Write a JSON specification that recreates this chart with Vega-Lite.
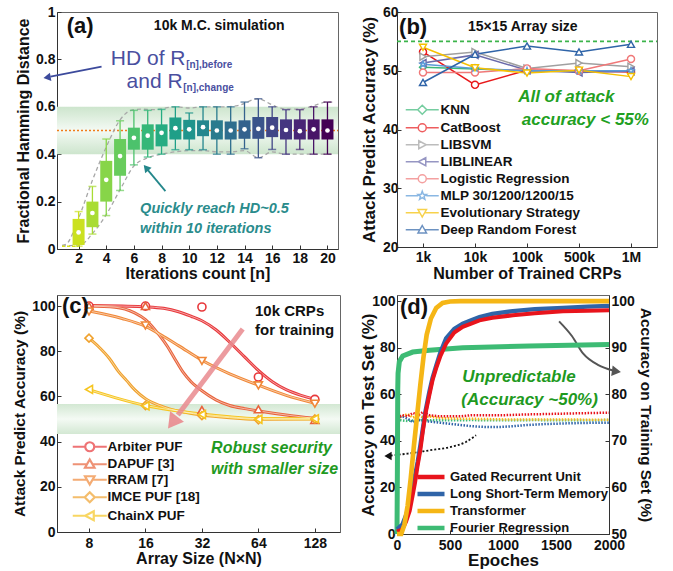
{
"$schema":"https://vega.github.io/schema/vega-lite/v6.json",
"background":"white",
"padding":{"left":12,"top":4,"right":0,"bottom":0},
"config":{
 "font":"Liberation Sans",
 "view":{"stroke":"#666","strokeWidth":1},
 "axis":{"labelFont":"Liberation Sans","titleFont":"Liberation Sans","labelFontSize":14,"labelFontWeight":"bold","titleFontSize":16,"titleFontWeight":"bold","labelColor":"#111","titleColor":"#111","domainColor":"#333","tickColor":"#333","tickSize":-4,"labelPadding":6,"grid":false,"labelFlush":false,"labelOverlap":false,"titlePadding":4},
 "axisX":{"labelPadding":8},
 "legend":{"labelFont":"Liberation Sans","labelFontWeight":"bold","labelColor":"#111","padding":0}
},
"datasets":{
 "hd":[
  {"n":2,"wlo":0.012,"q1":0.017,"med":0.07,"q3":0.127,"whi":0.158},
  {"n":3,"wlo":0.063,"q1":0.092,"med":0.152,"q3":0.2,"whi":0.264},
  {"n":4,"wlo":0.141,"q1":0.2,"med":0.292,"q3":0.372,"whi":0.464},
  {"n":5,"wlo":0.247,"q1":0.309,"med":0.392,"q3":0.464,"whi":0.541},
  {"n":6,"wlo":0.355,"q1":0.419,"med":0.469,"q3":0.512,"whi":0.585},
  {"n":7,"wlo":0.388,"q1":0.419,"med":0.478,"q3":0.526,"whi":0.585},
  {"n":8,"wlo":0.4,"q1":0.433,"med":0.49,"q3":0.526,"whi":0.589},
  {"n":9,"wlo":0.419,"q1":0.462,"med":0.51,"q3":0.555,"whi":0.6},
  {"n":10,"wlo":0.419,"q1":0.462,"med":0.505,"q3":0.545,"whi":0.574},
  {"n":11,"wlo":0.419,"q1":0.476,"med":0.514,"q3":0.543,"whi":0.6},
  {"n":12,"wlo":0.4,"q1":0.462,"med":0.5,"q3":0.543,"whi":0.6},
  {"n":13,"wlo":0.4,"q1":0.462,"med":0.5,"q3":0.538,"whi":0.6},
  {"n":14,"wlo":0.423,"q1":0.465,"med":0.505,"q3":0.543,"whi":0.62},
  {"n":15,"wlo":0.385,"q1":0.465,"med":0.507,"q3":0.557,"whi":0.634},
  {"n":16,"wlo":0.42,"q1":0.472,"med":0.512,"q3":0.557,"whi":0.6},
  {"n":17,"wlo":0.4,"q1":0.462,"med":0.502,"q3":0.547,"whi":0.588},
  {"n":18,"wlo":0.42,"q1":0.462,"med":0.497,"q3":0.547,"whi":0.588},
  {"n":19,"wlo":0.4,"q1":0.462,"med":0.505,"q3":0.547,"whi":0.6},
  {"n":20,"wlo":0.4,"q1":0.462,"med":0.5,"q3":0.547,"whi":0.62}
 ],
 "env":[
  {"side":"u","n":0.8,"v":0.015},{"side":"u","n":1.1,"v":0.02},{"side":"u","n":2,"v":0.13},{"side":"u","n":3,"v":0.29},{"side":"u","n":4,"v":0.43},{"side":"u","n":5,"v":0.545},{"side":"u","n":5.8,"v":0.585},{"side":"u","n":6.5,"v":0.59},{"side":"u","n":7.5,"v":0.588},{"side":"u","n":9,"v":0.6},{"side":"u","n":10,"v":0.595},{"side":"u","n":11,"v":0.6},{"side":"u","n":12.5,"v":0.6},{"side":"u","n":13.5,"v":0.605},{"side":"u","n":15,"v":0.634},{"side":"u","n":16,"v":0.608},{"side":"u","n":17,"v":0.59},{"side":"u","n":18,"v":0.59},{"side":"u","n":19,"v":0.605},{"side":"u","n":20,"v":0.62},{"side":"u","n":20.4,"v":0.62},
  {"side":"l","n":0.8,"v":0.012},{"side":"l","n":2.2,"v":0.02},{"side":"l","n":3,"v":0.065},{"side":"l","n":4,"v":0.145},{"side":"l","n":5,"v":0.25},{"side":"l","n":6,"v":0.35},{"side":"l","n":7,"v":0.385},{"side":"l","n":8,"v":0.4},{"side":"l","n":9,"v":0.41},{"side":"l","n":10,"v":0.415},{"side":"l","n":11,"v":0.415},{"side":"l","n":12,"v":0.41},{"side":"l","n":13,"v":0.41},{"side":"l","n":14,"v":0.415},{"side":"l","n":15,"v":0.385},{"side":"l","n":16,"v":0.41},{"side":"l","n":17,"v":0.4},{"side":"l","n":18,"v":0.4},{"side":"l","n":19,"v":0.4},{"side":"l","n":20,"v":0.4},{"side":"l","n":20.4,"v":0.4}
 ],
 "b":[
  {"m":"KNN","idx":0,"acc":50.6},{"m":"KNN","idx":1,"acc":50.3},{"m":"KNN","idx":2,"acc":50.0},{"m":"KNN","idx":3,"acc":50.0},{"m":"KNN","idx":4,"acc":50.0},
  {"m":"CatBoost","idx":0,"acc":53.2},{"m":"CatBoost","idx":1,"acc":47.6},{"m":"CatBoost","idx":2,"acc":50.1},{"m":"CatBoost","idx":3,"acc":50.0},{"m":"CatBoost","idx":4,"acc":49.8},
  {"m":"LIBSVM","idx":0,"acc":52.4},{"m":"LIBSVM","idx":1,"acc":53.2},{"m":"LIBSVM","idx":2,"acc":50.4},{"m":"LIBSVM","idx":3,"acc":51.3},{"m":"LIBSVM","idx":4,"acc":50.7},
  {"m":"LIBLINEAR","idx":0,"acc":51.3},{"m":"LIBLINEAR","idx":1,"acc":52.7},{"m":"LIBLINEAR","idx":2,"acc":50.1},{"m":"LIBLINEAR","idx":3,"acc":49.7},{"m":"LIBLINEAR","idx":4,"acc":49.9},
  {"m":"Logistic Regression","idx":0,"acc":49.7},{"m":"Logistic Regression","idx":1,"acc":49.7},{"m":"Logistic Regression","idx":2,"acc":50.4},{"m":"Logistic Regression","idx":3,"acc":50.0},{"m":"Logistic Regression","idx":4,"acc":52.0},
  {"m":"MLP 30/1200/1200/15","idx":0,"acc":51.1},{"m":"MLP 30/1200/1200/15","idx":1,"acc":50.4},{"m":"MLP 30/1200/1200/15","idx":2,"acc":50.0},{"m":"MLP 30/1200/1200/15","idx":3,"acc":50.0},{"m":"MLP 30/1200/1200/15","idx":4,"acc":50.0},
  {"m":"Evolutionary Strategy","idx":0,"acc":54.0},{"m":"Evolutionary Strategy","idx":1,"acc":50.5},{"m":"Evolutionary Strategy","idx":2,"acc":49.6},{"m":"Evolutionary Strategy","idx":3,"acc":50.1},{"m":"Evolutionary Strategy","idx":4,"acc":49.0},
  {"m":"Deep Random Forest","idx":0,"acc":48.0},{"m":"Deep Random Forest","idx":1,"acc":52.8},{"m":"Deep Random Forest","idx":2,"acc":54.2},{"m":"Deep Random Forest","idx":3,"acc":53.2},{"m":"Deep Random Forest","idx":4,"acc":54.5}
 ],
 "cpts":[
  {"p":"Arbiter PUF","N":8,"acc":100},{"p":"Arbiter PUF","N":16,"acc":100},{"p":"Arbiter PUF","N":32,"acc":99.6},{"p":"Arbiter PUF","N":64,"acc":68.6},{"p":"Arbiter PUF","N":128,"acc":58.7},
  {"p":"DAPUF [3]","N":8,"acc":100},{"p":"DAPUF [3]","N":16,"acc":100},{"p":"DAPUF [3]","N":32,"acc":54},{"p":"DAPUF [3]","N":64,"acc":54.3},{"p":"DAPUF [3]","N":128,"acc":49.6},
  {"p":"RRAM [7]","N":8,"acc":97.6},{"p":"RRAM [7]","N":16,"acc":91.4},{"p":"RRAM [7]","N":32,"acc":75.7},{"p":"RRAM [7]","N":64,"acc":64.9},{"p":"RRAM [7]","N":128,"acc":56.8},
  {"p":"IMCE PUF [18]","N":8,"acc":85.8},{"p":"IMCE PUF [18]","N":16,"acc":56},{"p":"IMCE PUF [18]","N":32,"acc":51.5},{"p":"IMCE PUF [18]","N":64,"acc":49.7},{"p":"IMCE PUF [18]","N":128,"acc":50},
  {"p":"ChainX PUF","N":8,"acc":63.1},{"p":"ChainX PUF","N":16,"acc":55.8},{"p":"ChainX PUF","N":32,"acc":52},{"p":"ChainX PUF","N":64,"acc":49.9},{"p":"ChainX PUF","N":128,"acc":50.1}
 ],
 "cfit":[
  {"p":"Arbiter PUF","N":8,"acc":100.2},{"p":"Arbiter PUF","N":12,"acc":100},{"p":"Arbiter PUF","N":16,"acc":99.7},{"p":"Arbiter PUF","N":20,"acc":99},{"p":"Arbiter PUF","N":24,"acc":97.5},{"p":"Arbiter PUF","N":28,"acc":95.5},{"p":"Arbiter PUF","N":32,"acc":93.5},{"p":"Arbiter PUF","N":38,"acc":89.5},{"p":"Arbiter PUF","N":45,"acc":84},{"p":"Arbiter PUF","N":54,"acc":77.5},{"p":"Arbiter PUF","N":64,"acc":71.5},{"p":"Arbiter PUF","N":76,"acc":66.5},{"p":"Arbiter PUF","N":90,"acc":63},{"p":"Arbiter PUF","N":108,"acc":60.5},{"p":"Arbiter PUF","N":128,"acc":58.8},
  {"p":"DAPUF [3]","N":8,"acc":100},{"p":"DAPUF [3]","N":11,"acc":99.5},{"p":"DAPUF [3]","N":14,"acc":97},{"p":"DAPUF [3]","N":16,"acc":94},{"p":"DAPUF [3]","N":19,"acc":87},{"p":"DAPUF [3]","N":21,"acc":82},{"p":"DAPUF [3]","N":23,"acc":76.5},{"p":"DAPUF [3]","N":25.5,"acc":70.5},{"p":"DAPUF [3]","N":28,"acc":66.5},{"p":"DAPUF [3]","N":32,"acc":62.5},{"p":"DAPUF [3]","N":38,"acc":58.5},{"p":"DAPUF [3]","N":45,"acc":56},{"p":"DAPUF [3]","N":54,"acc":54.6},{"p":"DAPUF [3]","N":64,"acc":53.6},{"p":"DAPUF [3]","N":90,"acc":51.8},{"p":"DAPUF [3]","N":128,"acc":50.3},
  {"p":"RRAM [7]","N":8,"acc":97.8},{"p":"RRAM [7]","N":12,"acc":94.5},{"p":"RRAM [7]","N":16,"acc":91},{"p":"RRAM [7]","N":20,"acc":86.5},{"p":"RRAM [7]","N":24,"acc":82.5},{"p":"RRAM [7]","N":32,"acc":76},{"p":"RRAM [7]","N":45,"acc":70},{"p":"RRAM [7]","N":64,"acc":65},{"p":"RRAM [7]","N":90,"acc":60.5},{"p":"RRAM [7]","N":128,"acc":57},
  {"p":"IMCE PUF [18]","N":8,"acc":85.8},{"p":"IMCE PUF [18]","N":9,"acc":82},{"p":"IMCE PUF [18]","N":10.3,"acc":76.7},{"p":"IMCE PUF [18]","N":11.5,"acc":71},{"p":"IMCE PUF [18]","N":12.7,"acc":67},{"p":"IMCE PUF [18]","N":14,"acc":63},{"p":"IMCE PUF [18]","N":16,"acc":59},{"p":"IMCE PUF [18]","N":19,"acc":56},{"p":"IMCE PUF [18]","N":21.5,"acc":54.5},{"p":"IMCE PUF [18]","N":26,"acc":53},{"p":"IMCE PUF [18]","N":32,"acc":51.8},{"p":"IMCE PUF [18]","N":45,"acc":50.6},{"p":"IMCE PUF [18]","N":64,"acc":49.9},{"p":"IMCE PUF [18]","N":128,"acc":50},
  {"p":"ChainX PUF","N":8,"acc":63},{"p":"ChainX PUF","N":11,"acc":59.5},{"p":"ChainX PUF","N":16,"acc":56},{"p":"ChainX PUF","N":22,"acc":54},{"p":"ChainX PUF","N":32,"acc":52.2},{"p":"ChainX PUF","N":45,"acc":51},{"p":"ChainX PUF","N":64,"acc":50.2},{"p":"ChainX PUF","N":128,"acc":50.1}
 ],
 "dtr":[
  {"m":"Fourier Regression","ep":0,"T":50},{"m":"Fourier Regression","ep":4,"T":65},{"m":"Fourier Regression","ep":7,"T":81},{"m":"Fourier Regression","ep":10,"T":84.5},{"m":"Fourier Regression","ep":22,"T":87},{"m":"Fourier Regression","ep":54,"T":88.2},{"m":"Fourier Regression","ep":148,"T":89.05},{"m":"Fourier Regression","ep":305,"T":89.45},{"m":"Fourier Regression","ep":620,"T":90},{"m":"Fourier Regression","ep":1250,"T":90.35},{"m":"Fourier Regression","ep":2000,"T":90.7},
  {"m":"Long Short-Term Memory","ep":0,"T":51},{"m":"Long Short-Term Memory","ep":50,"T":52},{"m":"Long Short-Term Memory","ep":85,"T":54},{"m":"Long Short-Term Memory","ep":120,"T":56.5},{"m":"Long Short-Term Memory","ep":148,"T":59.8},{"m":"Long Short-Term Memory","ep":170,"T":62.5},{"m":"Long Short-Term Memory","ep":195,"T":65.5},{"m":"Long Short-Term Memory","ep":220,"T":69},{"m":"Long Short-Term Memory","ep":243,"T":72.5},{"m":"Long Short-Term Memory","ep":270,"T":76.5},{"m":"Long Short-Term Memory","ep":305,"T":80.5},{"m":"Long Short-Term Memory","ep":335,"T":83.5},{"m":"Long Short-Term Memory","ep":368,"T":86},{"m":"Long Short-Term Memory","ep":410,"T":89},{"m":"Long Short-Term Memory","ep":463,"T":92},{"m":"Long Short-Term Memory","ep":540,"T":94},{"m":"Long Short-Term Memory","ep":620,"T":95.15},{"m":"Long Short-Term Memory","ep":700,"T":95.9},{"m":"Long Short-Term Memory","ep":778,"T":96.55},{"m":"Long Short-Term Memory","ep":900,"T":97.25},{"m":"Long Short-Term Memory","ep":1093,"T":97.85},{"m":"Long Short-Term Memory","ep":1300,"T":98.25},{"m":"Long Short-Term Memory","ep":1565,"T":98.55},{"m":"Long Short-Term Memory","ep":1800,"T":98.8},{"m":"Long Short-Term Memory","ep":2000,"T":98.95},
  {"m":"Gated Recurrent Unit","ep":0,"T":50.5},{"m":"Gated Recurrent Unit","ep":50,"T":51},{"m":"Gated Recurrent Unit","ep":85,"T":52.65},{"m":"Gated Recurrent Unit","ep":120,"T":55},{"m":"Gated Recurrent Unit","ep":148,"T":58.35},{"m":"Gated Recurrent Unit","ep":170,"T":61},{"m":"Gated Recurrent Unit","ep":195,"T":64.8},{"m":"Gated Recurrent Unit","ep":220,"T":68},{"m":"Gated Recurrent Unit","ep":243,"T":71.95},{"m":"Gated Recurrent Unit","ep":270,"T":76},{"m":"Gated Recurrent Unit","ep":305,"T":79.8},{"m":"Gated Recurrent Unit","ep":335,"T":83},{"m":"Gated Recurrent Unit","ep":368,"T":85.5},{"m":"Gated Recurrent Unit","ep":410,"T":88.25},{"m":"Gated Recurrent Unit","ep":463,"T":90.85},{"m":"Gated Recurrent Unit","ep":540,"T":93.25},{"m":"Gated Recurrent Unit","ep":620,"T":94.45},{"m":"Gated Recurrent Unit","ep":700,"T":95.15},{"m":"Gated Recurrent Unit","ep":778,"T":95.85},{"m":"Gated Recurrent Unit","ep":900,"T":96.4},{"m":"Gated Recurrent Unit","ep":1093,"T":96.95},{"m":"Gated Recurrent Unit","ep":1300,"T":97.4},{"m":"Gated Recurrent Unit","ep":1565,"T":97.8},{"m":"Gated Recurrent Unit","ep":1800,"T":97.9},{"m":"Gated Recurrent Unit","ep":2000,"T":98},
  {"m":"Transformer","ep":0,"T":50},{"m":"Transformer","ep":40,"T":50},{"m":"Transformer","ep":70,"T":52},{"m":"Transformer","ep":100,"T":56},{"m":"Transformer","ep":130,"T":62},{"m":"Transformer","ep":160,"T":69},{"m":"Transformer","ep":190,"T":75.5},{"m":"Transformer","ep":220,"T":82},{"m":"Transformer","ep":250,"T":88},{"m":"Transformer","ep":280,"T":92.75},{"m":"Transformer","ep":320,"T":96.25},{"m":"Transformer","ep":370,"T":98.5},{"m":"Transformer","ep":430,"T":99.6},{"m":"Transformer","ep":500,"T":99.9},{"m":"Transformer","ep":600,"T":100},{"m":"Transformer","ep":2000,"T":100}
 ],
 "dte":[
  {"m":"Fourier Regression","ep":0,"L":49},{"m":"Fourier Regression","ep":100,"L":48.5},{"m":"Fourier Regression","ep":200,"L":49},{"m":"Fourier Regression","ep":300,"L":48.8},{"m":"Fourier Regression","ep":500,"L":48.8},{"m":"Fourier Regression","ep":700,"L":48.9},{"m":"Fourier Regression","ep":1000,"L":48.8},{"m":"Fourier Regression","ep":1300,"L":48.9},{"m":"Fourier Regression","ep":1600,"L":48.8},{"m":"Fourier Regression","ep":2000,"L":48.9},
  {"m":"Transformer","ep":0,"L":49.5},{"m":"Transformer","ep":50,"L":50.5},{"m":"Transformer","ep":100,"L":51.5},{"m":"Transformer","ep":150,"L":50},{"m":"Transformer","ep":200,"L":51},{"m":"Transformer","ep":250,"L":50},{"m":"Transformer","ep":300,"L":50.5},{"m":"Transformer","ep":400,"L":49.8},{"m":"Transformer","ep":500,"L":49.6},{"m":"Transformer","ep":600,"L":49.5},{"m":"Transformer","ep":800,"L":49.4},{"m":"Transformer","ep":1000,"L":49.2},{"m":"Transformer","ep":1500,"L":49.2},{"m":"Transformer","ep":2000,"L":49},
  {"m":"Long Short-Term Memory","ep":0,"L":50},{"m":"Long Short-Term Memory","ep":50,"L":50.5},{"m":"Long Short-Term Memory","ep":100,"L":49.5},{"m":"Long Short-Term Memory","ep":150,"L":48},{"m":"Long Short-Term Memory","ep":200,"L":49},{"m":"Long Short-Term Memory","ep":250,"L":48.5},{"m":"Long Short-Term Memory","ep":300,"L":48.3},{"m":"Long Short-Term Memory","ep":400,"L":47.8},{"m":"Long Short-Term Memory","ep":500,"L":47.3},{"m":"Long Short-Term Memory","ep":600,"L":46.8},{"m":"Long Short-Term Memory","ep":700,"L":46.3},{"m":"Long Short-Term Memory","ep":800,"L":46},{"m":"Long Short-Term Memory","ep":900,"L":45.9},{"m":"Long Short-Term Memory","ep":1000,"L":46},{"m":"Long Short-Term Memory","ep":1100,"L":46.3},{"m":"Long Short-Term Memory","ep":1200,"L":46.7},{"m":"Long Short-Term Memory","ep":1400,"L":47.2},{"m":"Long Short-Term Memory","ep":1600,"L":47.5},{"m":"Long Short-Term Memory","ep":1800,"L":47.7},{"m":"Long Short-Term Memory","ep":2000,"L":47.8},
  {"m":"Gated Recurrent Unit","ep":0,"L":50},{"m":"Gated Recurrent Unit","ep":50,"L":51},{"m":"Gated Recurrent Unit","ep":100,"L":50.5},{"m":"Gated Recurrent Unit","ep":150,"L":52},{"m":"Gated Recurrent Unit","ep":200,"L":51},{"m":"Gated Recurrent Unit","ep":250,"L":52.5},{"m":"Gated Recurrent Unit","ep":300,"L":51},{"m":"Gated Recurrent Unit","ep":400,"L":50.5},{"m":"Gated Recurrent Unit","ep":500,"L":50.5},{"m":"Gated Recurrent Unit","ep":600,"L":50.5},{"m":"Gated Recurrent Unit","ep":700,"L":51},{"m":"Gated Recurrent Unit","ep":800,"L":51},{"m":"Gated Recurrent Unit","ep":1000,"L":51},{"m":"Gated Recurrent Unit","ep":1200,"L":51.3},{"m":"Gated Recurrent Unit","ep":1400,"L":51.5},{"m":"Gated Recurrent Unit","ep":1600,"L":51.7},{"m":"Gated Recurrent Unit","ep":1800,"L":51.9},{"m":"Gated Recurrent Unit","ep":2000,"L":52.1}
 ]
},
"columns":2,
"spacing":{"row":46,"column":57},
"bounds":"flush",
"concat":[
  {"width":281,"height":237,
   "encoding":{"x":{"field":"n","type":"quantitative","scale":{"domain":[0.8,20.4],"nice":false,"zero":false},"axis":{"values":[2,4,6,8,10,12,14,16,18,20],"title":"Iterations count [n]","titleFontSize":16,"titlePadding":0,"labelPadding":6}}},
   "layer":[
    {"data":{"values":[{"lo":0.4,"hi":0.6}]},
     "mark":{"type":"rect","color":{"gradient":"linear","x1":0,"y1":0,"x2":0,"y2":1,"stops":[{"offset":0,"color":"#cde5cd"},{"offset":0.5,"color":"#f4faf4"},{"offset":1,"color":"#cde5cd"}]}},
     "encoding":{"x":{"value":0},"x2":{"value":"width"},
      "y":{"field":"lo","type":"quantitative","scale":{"domain":[0,1],"nice":false},"axis":{"values":[0,0.2,0.4,0.6,0.8,1],"format":"~g","title":"Fractional Hamming Distance","titleFontSize":16}},
      "y2":{"field":"hi"}}},
    {"data":{"values":[{"v":0.5}]},"mark":{"type":"rule","color":"#f07d1a","strokeDash":[2,2],"strokeWidth":1.3},
     "encoding":{"x":{"value":0},"x2":{"value":"width"},"y":{"field":"v","type":"quantitative"}}},
    {"data":{"name":"env"},"mark":{"type":"line","strokeDash":[4,3],"color":"#a8a8a8","strokeWidth":1.3,"interpolate":"monotone"},
     "encoding":{"y":{"field":"v","type":"quantitative"},"detail":{"field":"side"}}},
    {"data":{"values":[{"n":0.8,"v":0.012},{"n":2,"v":0.012}]},"mark":{"type":"line","strokeDash":[3,2],"color":"#d7e21c","strokeWidth":1.5},
     "encoding":{"y":{"field":"v","type":"quantitative"}}},
    {"data":{"name":"hd"},"mark":{"type":"rule","strokeWidth":1.3},
     "encoding":{"y":{"field":"wlo","type":"quantitative"},"y2":{"field":"whi"},"color":{"field":"n","type":"quantitative","scale":{"scheme":"viridis","reverse":true,"domain":[0.5,20]},"legend":null}}},
    {"data":{"name":"hd"},"mark":{"type":"tick","orient":"horizontal","size":8,"thickness":1.5},
     "encoding":{"y":{"field":"wlo","type":"quantitative"},"color":{"field":"n","type":"quantitative","scale":{"scheme":"viridis","reverse":true,"domain":[0.5,20]},"legend":null}}},
    {"data":{"name":"hd"},"mark":{"type":"tick","orient":"horizontal","size":8,"thickness":1.5},
     "encoding":{"y":{"field":"whi","type":"quantitative"},"color":{"field":"n","type":"quantitative","scale":{"scheme":"viridis","reverse":true,"domain":[0.5,20]},"legend":null}}},
    {"data":{"name":"hd"},"mark":{"type":"bar","size":12},
     "encoding":{"y":{"field":"q1","type":"quantitative"},"y2":{"field":"q3"},"color":{"field":"n","type":"quantitative","scale":{"scheme":"viridis","reverse":true,"domain":[0.5,20]},"legend":null}}},
    {"data":{"name":"hd"},"mark":{"type":"point","filled":true,"color":"white","size":22,"opacity":1},
     "encoding":{"y":{"field":"med","type":"quantitative"}}},
    {"data":{"values":[{"n":3.66,"v":0.77,"n2":-0.04,"v2":0.727}]},"mark":{"type":"rule","color":"#3c4a9c","strokeWidth":1.8},
     "encoding":{"y":{"field":"v","type":"quantitative"},"x2":{"field":"n2"},"y2":{"field":"v2"}}},
    {"data":{"values":[{"n":-0.28,"v":0.724}]},"mark":{"type":"point","shape":"triangle-left","angle":-10,"filled":true,"color":"#3c4a9c","size":70,"opacity":1},
     "encoding":{"y":{"field":"v","type":"quantitative"}}},
    {"data":{"values":[{"n":8.28,"v":0.244,"n2":7.0,"v2":0.334}]},"mark":{"type":"rule","color":"#24878b","strokeWidth":1.8},
     "encoding":{"y":{"field":"v","type":"quantitative"},"x2":{"field":"n2"},"y2":{"field":"v2"}}},
    {"data":{"values":[{"n":6.88,"v":0.343}]},"mark":{"type":"point","shape":"triangle-up","angle":-40,"filled":true,"color":"#24878b","size":70,"opacity":1},
     "encoding":{"y":{"field":"v","type":"quantitative"}}},
    {"data":{"values":[{"n":1.14,"v":0.939,"t":"(a)"}]},"mark":{"type":"text","align":"left","baseline":"middle","fontSize":22,"fontWeight":"bold","color":"#111"},
     "encoding":{"y":{"field":"v","type":"quantitative"},"text":{"field":"t"}}},
    {"data":{"values":[{"n":12.17,"v":0.939,"t":"10k M.C. simulation"}]},"mark":{"type":"text","align":"center","baseline":"middle","fontSize":14,"fontWeight":"bold","color":"#111"},
     "encoding":{"y":{"field":"v","type":"quantitative"},"text":{"field":"t"}}},
    {"data":{"values":[{"n":9.73,"v":0.803,"t":"HD of R"},{"n":9.52,"v":0.706,"t":"and R"}]},"mark":{"type":"text","align":"right","baseline":"middle","fontSize":21,"color":"#4a4f9f"},
     "encoding":{"y":{"field":"v","type":"quantitative"},"text":{"field":"t"}}},
    {"data":{"values":[{"n":9.78,"v":0.778,"t":"[n],before"},{"n":9.57,"v":0.681,"t":"[n],change"}]},"mark":{"type":"text","align":"left","baseline":"middle","fontSize":10,"fontWeight":"bold","color":"#4a4f9f"},
     "encoding":{"y":{"field":"v","type":"quantitative"},"text":{"field":"t"}}},
    {"data":{"values":[{"n":6.45,"v":0.169,"t":"Quickly reach HD~0.5"},{"n":6.45,"v":0.085,"t":"within 10 iterations"}]},"mark":{"type":"text","align":"left","baseline":"middle","fontSize":14.5,"fontWeight":"bold","fontStyle":"italic","color":"#2a8c8c"},
     "encoding":{"y":{"field":"v","type":"quantitative"},"text":{"field":"t"}}}
   ]},
  {"width":260,"height":235,
   "encoding":{"x":{"field":"idx","type":"quantitative","scale":{"domain":[-0.5,4.5],"nice":false,"zero":false},"axis":{"values":[0,1,2,3,4],"labelExpr":"['1k','10k','100k','500k','1M'][datum.value]","title":"Number of Trained CRPs","titleFontSize":16,"titlePadding":1,"labelPadding":7}}},
   "layer":[
    {"data":{"values":[{"acc":55}]},"mark":{"type":"rule","color":"#3cb44b","strokeDash":[4,3],"strokeWidth":1.6},
     "encoding":{"x":{"value":0},"x2":{"value":"width"},"y":{"field":"acc","type":"quantitative","scale":{"domain":[20,60],"nice":false,"zero":false},"axis":{"values":[20,30,40,50,60],"title":"Attack Predict Accuracy (%)","titleFontSize":17,"labelPadding":3}}}},
    {"data":{"name":"b"},"mark":{"type":"line","strokeWidth":1.5},
     "encoding":{"y":{"field":"acc","type":"quantitative"},"stroke":{"field":"m","type":"nominal","scale":{"domain":["KNN","CatBoost","LIBSVM","LIBLINEAR","Logistic Regression","MLP 30/1200/1200/15","Evolutionary Strategy","Deep Random Forest"],"range":["#3cb878","#e8191b","#a0a0a0","#6a6aaa","#f07878","#5a9ad8","#f5c000","#2f64a8"]},"legend":null}}},
    {"data":{"name":"b"},"mark":{"type":"point","filled":true,"fill":"white","strokeWidth":1.4,"size":50,"opacity":1},
     "encoding":{"y":{"field":"acc","type":"quantitative"},
      "stroke":{"field":"m","type":"nominal","scale":{"domain":["KNN","CatBoost","LIBSVM","LIBLINEAR","Logistic Regression","MLP 30/1200/1200/15","Evolutionary Strategy","Deep Random Forest"],"range":["#3cb878","#e8191b","#a0a0a0","#6a6aaa","#f07878","#5a9ad8","#f5c000","#2f64a8"]},"legend":null},
      "shape":{"field":"m","type":"nominal","scale":{"domain":["KNN","CatBoost","LIBSVM","LIBLINEAR","Logistic Regression","MLP 30/1200/1200/15","Evolutionary Strategy","Deep Random Forest"],"range":["diamond","circle","triangle-right","triangle-left","circle","M0,-0.9L0.223,-0.307L0.856,-0.278L0.361,0.117L0.529,0.728L0,0.38L-0.529,0.728L-0.361,0.117L-0.856,-0.278L-0.223,-0.307Z","triangle-down","triangle-up"]},"legend":null}}},
    {"data":{"name":"b"},"transform":[{"filter":"false"}],"mark":{"type":"point","filled":false,"strokeWidth":1.5},
     "encoding":{"y":{"field":"acc","type":"quantitative"},
      "stroke":{"field":"m","type":"nominal","scale":{"domain":["KNN","CatBoost","LIBSVM","LIBLINEAR","Logistic Regression","MLP 30/1200/1200/15","Evolutionary Strategy","Deep Random Forest"],"range":["#3cb878","#e8191b","#a0a0a0","#6a6aaa","#f07878","#5a9ad8","#f5c000","#2f64a8"]},
        "legend":{"title":null,"orient":"none","legendX":18.5,"legendY":91,"symbolSize":100,"symbolStrokeWidth":1.5,"labelFontSize":13.5,"labelOffset":11.5,"rowPadding":2}},
      "shape":{"field":"m","type":"nominal","scale":{"domain":["KNN","CatBoost","LIBSVM","LIBLINEAR","Logistic Regression","MLP 30/1200/1200/15","Evolutionary Strategy","Deep Random Forest"],"range":[
        "M-3.3,0H-0.9M0.9,0H3.3M0,-0.9L0.9,0L0,0.9L-0.9,0Z",
        "M-3.3,0H-0.8M0.8,0H3.3M-0.8,0A0.8,0.8,0,1,0,0.8,0A0.8,0.8,0,1,0,-0.8,0Z",
        "M-3.3,0H-0.7M0.8,0H3.3M-0.7,-0.8L0.8,0L-0.7,0.8Z",
        "M-3.3,0H-0.8M0.7,0H3.3M0.7,-0.8L-0.8,0L0.7,0.8Z",
        "M-3.3,0H-0.8M0.8,0H3.3M-0.8,0A0.8,0.8,0,1,0,0.8,0A0.8,0.8,0,1,0,-0.8,0Z",
        "M-3.3,0H-0.8M0.8,0H3.3M0,-0.9L0.223,-0.307L0.856,-0.278L0.361,0.117L0.529,0.728L0,0.38L-0.529,0.728L-0.361,0.117L-0.856,-0.278L-0.223,-0.307Z",
        "M-3.3,0H-0.45M0.45,0H3.3M0,0.85L0.85,-0.65L-0.85,-0.65Z",
        "M-3.3,0H-0.45M0.45,0H3.3M0,-0.85L0.85,0.65L-0.85,0.65Z"]},
        "legend":{"title":null,"orient":"none","legendX":18.5,"legendY":91,"symbolSize":100,"symbolStrokeWidth":1.5,"labelFontSize":13.5,"labelOffset":11.5,"rowPadding":2}}}},
    {"data":{"values":[{"idx":-0.46,"acc":57.45,"t":"(b)"}]},"mark":{"type":"text","align":"left","baseline":"middle","fontSize":22,"fontWeight":"bold","color":"#111"},
     "encoding":{"y":{"field":"acc","type":"quantitative"},"text":{"field":"t"}}},
    {"data":{"values":[{"idx":1.92,"acc":57.45,"t":"15×15 Array size"}]},"mark":{"type":"text","align":"center","baseline":"middle","fontSize":14,"fontWeight":"bold","color":"#111"},
     "encoding":{"y":{"field":"acc","type":"quantitative"},"text":{"field":"t"}}},
    {"data":{"values":[{"idx":1.83,"acc":45.5,"t":"All of attack"},{"idx":1.9,"acc":41.6,"t":"accuracy < 55%"}]},"mark":{"type":"text","align":"left","baseline":"middle","fontSize":17,"fontWeight":"bold","fontStyle":"italic","color":"#22a022"},
     "encoding":{"y":{"field":"acc","type":"quantitative"},"text":{"field":"t"}}}
   ],
   "resolve":{"scale":{"stroke":"independent","shape":"independent"}}},
  {"width":283,"height":237,
   "encoding":{"x":{"field":"N","type":"quantitative","scale":{"type":"log","base":2,"domain":[5.4,174.3],"nice":false},"axis":{"values":[8,16,32,64,128],"format":"d","title":"Array Size (N×N)","titleFontSize":16,"titlePadding":0}}},
   "layer":[
    {"data":{"values":[{"lo":43.4,"hi":56.6}]},
     "mark":{"type":"rect","color":{"gradient":"linear","x1":0,"y1":0,"x2":0,"y2":1,"stops":[{"offset":0,"color":"#d3e8d3"},{"offset":0.5,"color":"#f4faf4"},{"offset":1,"color":"#d3e8d3"}]}},
     "encoding":{"x":{"value":0},"x2":{"value":"width"},
      "y":{"field":"lo","type":"quantitative","scale":{"domain":[0,104.9],"nice":false},"axis":{"values":[0,20,40,60,80,100],"title":"Attack Predict Accuracy (%)","titleFontSize":15.5}},
      "y2":{"field":"hi"}}},
    {"data":{"name":"cfit"},"mark":{"type":"line","interpolate":"monotone","strokeWidth":3},
     "encoding":{"y":{"field":"acc","type":"quantitative"},"stroke":{"field":"p","type":"nominal","scale":{"domain":["Arbiter PUF","DAPUF [3]","RRAM [7]","IMCE PUF [18]","ChainX PUF"],"range":["#e8393c","#e8643c","#f08838","#f0a22e","#f6c520"]},"legend":null}}},
    {"data":{"name":"cfit"},"mark":{"type":"line","interpolate":"monotone","strokeWidth":1,"color":"white","opacity":0.55},
     "encoding":{"y":{"field":"acc","type":"quantitative"},"detail":{"field":"p"}}},
    {"data":{"name":"cpts"},"mark":{"type":"point","filled":true,"fill":"white","strokeWidth":1.6,"size":65,"opacity":1},
     "encoding":{"y":{"field":"acc","type":"quantitative"},
      "stroke":{"field":"p","type":"nominal","scale":{"domain":["Arbiter PUF","DAPUF [3]","RRAM [7]","IMCE PUF [18]","ChainX PUF"],"range":["#e8393c","#e8643c","#f08838","#f0a22e","#f6c520"]},"legend":null},
      "shape":{"field":"p","type":"nominal","scale":{"domain":["Arbiter PUF","DAPUF [3]","RRAM [7]","IMCE PUF [18]","ChainX PUF"],"range":["circle","triangle-up","triangle-down","diamond","triangle-left"]},"legend":null}}},
    {"data":{"name":"cpts"},"transform":[{"filter":"false"}],"mark":{"type":"point","filled":false,"strokeWidth":2.2},
     "encoding":{"y":{"field":"acc","type":"quantitative"},
      "stroke":{"field":"p","type":"nominal","scale":{"domain":["Arbiter PUF","DAPUF [3]","RRAM [7]","IMCE PUF [18]","ChainX PUF"],"range":["#e8393c","#e8643c","#f08838","#f0a22e","#f6c520"]},
        "legend":{"title":null,"orient":"none","legendX":26,"legendY":145,"symbolSize":100,"symbolStrokeWidth":2.2,"labelFontSize":13.5,"labelOffset":11,"rowPadding":-1.5}},
      "shape":{"field":"p","type":"nominal","scale":{"domain":["Arbiter PUF","DAPUF [3]","RRAM [7]","IMCE PUF [18]","ChainX PUF"],"range":[
        "M-3.4,0H-0.9M0.9,0H3.4M-0.9,0A0.9,0.9,0,1,0,0.9,0A0.9,0.9,0,1,0,-0.9,0Z",
        "M-3.4,0H-0.5M0.5,0H3.4M0,-0.95L0.95,0.7L-0.95,0.7Z",
        "M-3.4,0H-0.5M0.5,0H3.4M0,0.95L0.95,-0.7L-0.95,-0.7Z",
        "M-3.4,0H-1M1,0H3.4M0,-1L1,0L0,1L-1,0Z",
        "M-3.4,0H-0.9M0.8,0H3.4M0.8,-0.9L-0.9,0L0.8,0.9Z"]},
        "legend":{"title":null,"orient":"none","legendX":26,"legendY":145,"symbolSize":100,"symbolStrokeWidth":2.2,"labelFontSize":13.5,"labelOffset":11,"rowPadding":-1.5}}}},
    {"data":{"values":[{"N":52.8,"acc":89.8,"N2":23.8,"acc2":51.8}]},"mark":{"type":"rule","color":"#e98a8e","strokeWidth":5,"opacity":0.85},
     "encoding":{"y":{"field":"acc","type":"quantitative"},"x2":{"field":"N2"},"y2":{"field":"acc2"}}},
    {"data":{"values":[{"N":22.3,"acc":48.5}]},"mark":{"type":"point","shape":"triangle-down","angle":37,"filled":true,"color":"#e98a8e","size":300,"opacity":0.9},
     "encoding":{"y":{"field":"acc","type":"quantitative"}}},
    {"data":{"values":[{"N":5.74,"acc":100,"t":"(c)"}]},"mark":{"type":"text","align":"left","baseline":"middle","fontSize":22,"fontWeight":"bold","color":"#111"},
     "encoding":{"y":{"field":"acc","type":"quantitative"},"text":{"field":"t"}}},
    {"data":{"values":[{"N":61.4,"acc":97.8,"t":"10k CRPs"},{"N":61.4,"acc":89.4,"t":"for training"}]},"mark":{"type":"text","align":"left","baseline":"middle","fontSize":15,"fontWeight":"bold","color":"#111"},
     "encoding":{"y":{"field":"acc","type":"quantitative"},"text":{"field":"t"}}},
    {"data":{"values":[{"N":35.8,"acc":37.2,"t":"Robust security"},{"N":35.8,"acc":27.9,"t":"with smaller size"}]},"mark":{"type":"text","align":"left","baseline":"middle","fontSize":16,"fontWeight":"bold","fontStyle":"italic","color":"#1f9a1f"},
     "encoding":{"y":{"field":"acc","type":"quantitative"},"text":{"field":"t"}}}
   ],
   "resolve":{"scale":{"stroke":"independent","shape":"independent"}}},
  {"width":212,"height":239,
   "encoding":{"x":{"field":"ep","type":"quantitative","scale":{"domain":[0,2000],"nice":false},"axis":{"values":[0,500,1000,1500,2000],"format":"d","title":"Epoches","titleFontSize":17,"titlePadding":0}}},
   "layer":[
    {"layer":[
     {"data":{"name":"dte"},"mark":{"type":"line","strokeDash":[1.5,1.5],"strokeWidth":2.5},
      "encoding":{"y":{"field":"L","type":"quantitative","scale":{"domain":[0,102.6],"nice":false},"axis":{"values":[0,20,40,60,80,100],"title":"Accuracy on Test Set (%)","titleFontSize":17,"titlePadding":-6}},
       "color":{"field":"m","type":"nominal","scale":{"domain":["Gated Recurrent Unit","Long Short-Term Memory","Transformer","Fourier Regression"],"range":["#e8141c","#2f64a8","#f5b616","#3dbb74"]},
        "legend":{"title":null,"orient":"none","legendX":26.5,"legendY":174.5,"symbolType":"M-2.7,0H2.7","symbolSize":100,"symbolStrokeWidth":4.5,"symbolDash":[1,0],"labelFontSize":13,"labelOffset":11.5,"rowPadding":-3}}}},
     {"data":{"values":[{"ep":746,"L":42.4},{"ep":650,"L":39.5},{"ep":500,"L":37.3},{"ep":305,"L":35.9},{"ep":100,"L":34.5},{"ep":-60,"L":33.7}]},"mark":{"type":"line","color":"#111","strokeDash":[2,2],"strokeWidth":1.8,"interpolate":"monotone","clip":false},
      "encoding":{"y":{"field":"L","type":"quantitative"},"order":{"field":"ep"}}},
     {"data":{"values":[{"ep":-85,"L":33.5}]},"mark":{"type":"point","shape":"triangle-left","filled":true,"color":"#111","size":70,"opacity":1},
      "encoding":{"y":{"field":"L","type":"quantitative"}}},
     {"data":{"values":[{"ep":1529,"L":91.3},{"ep":1650,"L":85},{"ep":1757,"L":77.4},{"ep":1900,"L":72.5},{"ep":2030,"L":70.3}]},"mark":{"type":"line","color":"#555","strokeWidth":2,"interpolate":"monotone","clip":false},
      "encoding":{"y":{"field":"L","type":"quantitative"}}},
     {"data":{"values":[{"ep":2070,"L":69.8}]},"mark":{"type":"point","shape":"triangle-right","angle":8,"filled":true,"color":"#555","size":110,"opacity":1},
      "encoding":{"y":{"field":"L","type":"quantitative"}}},
     {"data":{"values":[{"ep":28,"L":97.4,"t":"(d)"}]},"mark":{"type":"text","align":"left","baseline":"middle","fontSize":22,"fontWeight":"bold","color":"#111"},
      "encoding":{"y":{"field":"L","type":"quantitative"},"text":{"field":"t"}}},
     {"data":{"values":[{"ep":616,"L":67.4,"t":"Unpredictable"},{"ep":607,"L":57.5,"t":"(Accuracy ~50%)"}]},"mark":{"type":"text","align":"left","baseline":"middle","fontSize":17,"fontWeight":"bold","fontStyle":"italic","color":"#1f9a1f"},
      "encoding":{"y":{"field":"L","type":"quantitative"},"text":{"field":"t"}}}
    ]},
    {"layer":[
     {"data":{"name":"dtr"},"mark":{"type":"line"},
      "encoding":{"y":{"field":"T","type":"quantitative","scale":{"domain":[50,101.3],"nice":false,"zero":false},"axis":{"orient":"right","values":[50,60,70,80,90,100],"title":"Accuracy on Training Set (%)","titleFontSize":15.5,"titlePadding":3}},
       "color":{"field":"m","type":"nominal","scale":{"domain":["Gated Recurrent Unit","Long Short-Term Memory","Transformer","Fourier Regression"],"range":["#e8141c","#2f64a8","#f5b616","#3dbb74"]},
        "legend":{"title":null,"orient":"none","legendX":26.5,"legendY":174.5,"symbolType":"M-2.7,0H2.7","symbolSize":100,"symbolStrokeWidth":4.5,"symbolDash":[1,0],"labelFontSize":13,"labelOffset":11.5,"rowPadding":-3}},
       "strokeWidth":{"field":"m","type":"ordinal","scale":{"domain":["Gated Recurrent Unit","Long Short-Term Memory","Transformer","Fourier Regression"],"range":[4,5,3,3]},"legend":null}}}
    ]}
   ],
   "resolve":{"scale":{"y":"independent"}}}
]
}
